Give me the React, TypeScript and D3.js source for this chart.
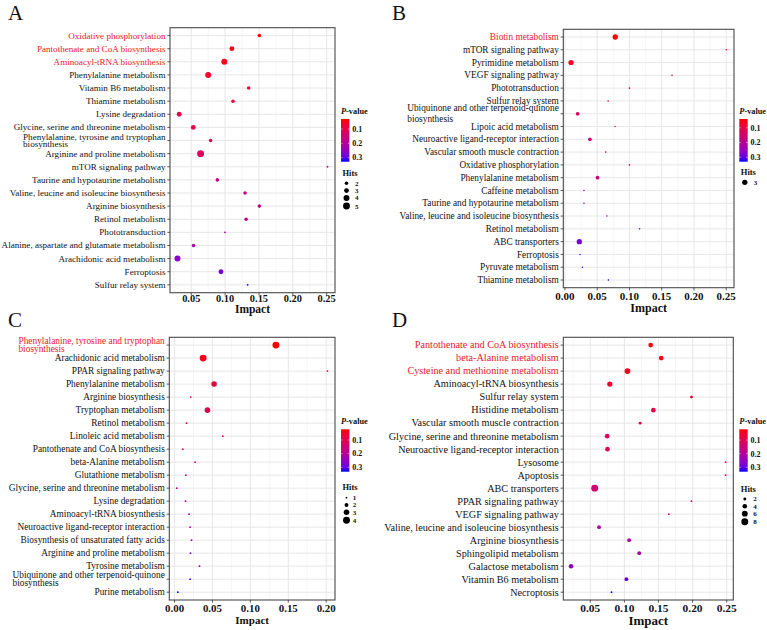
import React, { useEffect, useRef } from "react";
import * as d3 from "d3";

const FONT = "'Liberation Serif','Times New Roman',Times,serif";

// ---------------- Panel A ----------------
const namesA = [
  "Oxidative phosphorylation",
  "Pantothenate and CoA biosynthesis",
  "Aminoacyl-tRNA biosynthesis",
  "Phenylalanine metabolism",
  "Vitamin B6 metabolism",
  "Thiamine metabolism",
  "Lysine degradation",
  "Glycine, serine and threonine metabolism",
  "Phenylalanine, tyrosine and tryptophan\nbiosynthesis",
  "Arginine and proline metabolism",
  "mTOR signaling pathway",
  "Taurine and hypotaurine metabolism",
  "Valine, leucine and isoleucine biosynthesis",
  "Arginine biosynthesis",
  "Retinol metabolism",
  "Phototransduction",
  "Alanine, aspartate and glutamate metabolism",
  "Arachidonic acid metabolism",
  "Ferroptosis",
  "Sulfur relay system",
];
const impactA = [0.1506, 0.110, 0.0988, 0.075, 0.1348, 0.1117, 0.0322, 0.053, 0.0786, 0.0638,
  0.2512, 0.0885, 0.1294, 0.1506, 0.131, 0.0998, 0.0534, 0.0297, 0.0939, 0.1333];
const pvalA = [0.030, 0.040, 0.046, 0.060, 0.068, 0.080, 0.095, 0.100, 0.105, 0.120,
  0.125, 0.160, 0.170, 0.170, 0.180, 0.200, 0.220, 0.260, 0.280, 0.328];
const hitsA = [2, 3, 4, 4, 2, 2, 3, 3, 2, 5, 1, 2, 2, 2, 2, 1, 2, 4, 3, 1];
const sigA = 3;
const hitsBreaksA = [2, 3, 4, 5];

// ---------------- Panel B ----------------
const namesB = [
  "Biotin metabolism",
  "mTOR signaling pathway",
  "Pyrimidine metabolism",
  "VEGF signaling pathway",
  "Phototransduction",
  "Sulfur relay system",
  "Ubiquinone and other terpenoid-quinone\nbiosynthesis",
  "Lipoic acid metabolism",
  "Neuroactive ligand-receptor interaction",
  "Vascular smooth muscle contraction",
  "Oxidative phosphorylation",
  "Phenylalanine metabolism",
  "Caffeine metabolism",
  "Taurine and hypotaurine metabolism",
  "Valine, leucine and isoleucine biosynthesis",
  "Retinol metabolism",
  "ABC transporters",
  "Ferroptosis",
  "Pyruvate metabolism",
  "Thiamine metabolism",
];
const impactB = [0.078, 0.25, 0.0095, 0.166, 0.100, 0.067, 0.0197, 0.0777, 0.0387, 0.0633,
  0.100, 0.0505, 0.0295, 0.0295, 0.065, 0.1157, 0.0223, 0.0233, 0.027, 0.0674];
const pvalB = [0.041, 0.060, 0.065, 0.090, 0.100, 0.120, 0.130, 0.140, 0.150, 0.160,
  0.170, 0.180, 0.200, 0.210, 0.220, 0.250, 0.280, 0.300, 0.310, 0.330];
const hitsB = [3, 1, 3, 1, 1, 1, 2, 1, 2, 1, 1, 2, 1, 1, 1, 1, 3, 1, 1, 1];
const sigB = 1;
const hitsBreaksB = [3];

// ---------------- Panel C ----------------
const namesC = [
  "Phenylalanine, tyrosine and tryptophan\nbiosynthesis",
  "Arachidonic acid metabolism",
  "PPAR signaling pathway",
  "Phenylalanine metabolism",
  "Arginine biosynthesis",
  "Tryptophan metabolism",
  "Retinol metabolism",
  "Linoleic acid metabolism",
  "Pantothenate and CoA biosynthesis",
  "beta-Alanine metabolism",
  "Glutathione metabolism",
  "Glycine, serine and threonine metabolism",
  "Lysine degradation",
  "Aminoacyl-tRNA biosynthesis",
  "Neuroactive ligand-receptor interaction",
  "Biosynthesis of unsaturated fatty acids",
  "Arginine and proline metabolism",
  "Tyrosine metabolism",
  "Ubiquinone and other terpenoid-quinone\nbiosynthesis",
  "Purine metabolism",
];
const impactC = [0.1337, 0.0377, 0.2017, 0.0521, 0.0214, 0.0434, 0.0158, 0.0636, 0.0109, 0.0271,
  0.0149, 0.003, 0.0145, 0.0192, 0.0205, 0.0224, 0.021, 0.0329, 0.0205, 0.0043];
const pvalC = [0.022, 0.040, 0.060, 0.080, 0.090, 0.100, 0.110, 0.120, 0.130, 0.140,
  0.160, 0.170, 0.190, 0.200, 0.210, 0.240, 0.250, 0.270, 0.300, 0.332];
const hitsC = [4, 4, 1, 3, 1, 3, 1, 1, 1, 1, 1, 1, 1, 1, 1, 1, 1, 1, 1, 1];
const sigC = 1;
const hitsBreaksC = [1, 2, 3, 4];

// ---------------- Panel D ----------------
const namesD = [
  "Pantothenate and CoA biosynthesis",
  "beta-Alanine metabolism",
  "Cysteine and methionine metabolism",
  "Aminoacyl-tRNA biosynthesis",
  "Sulfur relay system",
  "Histidine metabolism",
  "Vascular smooth muscle contraction",
  "Glycine, serine and threonine metabolism",
  "Neuroactive ligand-receptor interaction",
  "Lysosome",
  "Apoptosis",
  "ABC transporters",
  "PPAR signaling pathway",
  "VEGF signaling pathway",
  "Valine, leucine and isoleucine biosynthesis",
  "Arginine biosynthesis",
  "Sphingolipid metabolism",
  "Galactose metabolism",
  "Vitamin B6 metabolism",
  "Necroptosis",
];
const impactD = [0.1386, 0.154, 0.1045, 0.0787, 0.1984, 0.1425, 0.1232, 0.0748, 0.0753, 0.2484,
  0.2484, 0.0565, 0.1984, 0.1653, 0.0629, 0.107, 0.1218, 0.0218, 0.103, 0.0812];
const pvalD = [0.021, 0.030, 0.045, 0.060, 0.070, 0.090, 0.100, 0.110, 0.115, 0.130,
  0.130, 0.140, 0.160, 0.170, 0.200, 0.210, 0.220, 0.260, 0.300, 0.332];
const hitsD = [4, 4, 6, 5, 2, 4, 2, 4, 4, 1, 1, 8, 1, 1, 3, 3, 3, 4, 3, 1];
const sigD = 3;
const hitsBreaksD = [2, 4, 6, 8];

const pBreaks = [0.1, 0.2, 0.3];
const xTitle = "Impact";

type Layout = {
  letter: string; lx: number; ly: number;
  x0: number; x1: number; y0: number; y1: number;
  labelFont: number; tickFont: number; titleFont: number;
  tickDy: number; titleDy: number; lineGap: number;
  legX: number; cbTop: number; cbH: number;
  hitsTitleY: number; hitsY0: number; sizeK: number; hitsLabelDx: number;
};

const layouts: Layout[] = [
  { letter: "A", lx: 8, ly: 19.5, x0: 170, x1: 335, y0: 27.7, y1: 292.7, labelFont: 9.1, tickFont: 10.4, titleFont: 11.5,
    tickDy: 9.5, titleDy: 20.3, lineGap: 7.8, legX: 341, cbTop: 119, cbH: 42.7, hitsTitleY: 176, hitsY0: 183.3, sizeK: 1.02, hitsLabelDx: 14 },
  { letter: "B", lx: 392, ly: 19.5, x0: 563.3, x1: 734, y0: 29.3, y1: 287.7, labelFont: 9.3, tickFont: 11, titleFont: 12,
    tickDy: 12.5, titleDy: 24.5, lineGap: 10.6, legX: 739.3, cbTop: 119, cbH: 42.7, hitsTitleY: 174.5, hitsY0: 182.3, sizeK: 0.75, hitsLabelDx: 14.5 },
  { letter: "C", lx: 8, ly: 327.3, x0: 169.3, x1: 335, y0: 337.3, y1: 600, labelFont: 9.35, tickFont: 10.9, titleFont: 11,
    tickDy: 12, titleDy: 23.5, lineGap: 8, legX: 341, cbTop: 429.3, cbH: 42.4, hitsTitleY: 490, hitsY0: 497.7, sizeK: 1.02, hitsLabelDx: 11.7 },
  { letter: "D", lx: 392, ly: 326.7, x0: 563.3, x1: 733.3, y0: 337.3, y1: 600, labelFont: 10.2, tickFont: 11.4, titleFont: 13,
    tickDy: 11.8, titleDy: 24.5, lineGap: 8, legX: 739.3, cbTop: 429.3, cbH: 42.4, hitsTitleY: 491.5, hitsY0: 499, sizeK: 1.02, hitsLabelDx: 14 },
];

type Panel = { names: string[]; impact: number[]; pval: number[]; hits: number[]; nSig: number; hitsBreaks: number[] };
const panels: Panel[] = [
  { names: namesA, impact: impactA, pval: pvalA, hits: hitsA, nSig: sigA, hitsBreaks: hitsBreaksA },
  { names: namesB, impact: impactB, pval: pvalB, hits: hitsB, nSig: sigB, hitsBreaks: hitsBreaksB },
  { names: namesC, impact: impactC, pval: pvalC, hits: hitsC, nSig: sigC, hitsBreaks: hitsBreaksC },
  { names: namesD, impact: impactD, pval: pvalD, hits: hitsD, nSig: sigD, hitsBreaks: hitsBreaksD },
];

const SIG_RED = "#e8202a";

function drawPanel(svg: d3.Selection<SVGSVGElement, unknown, null, undefined>, P: Panel, L: Layout, idx: number) {
  const g = svg.append("g");
  const [imin, imax] = d3.extent(P.impact) as [number, number];
  const pad = (imax - imin) * 0.05;
  const x = d3.scaleLinear().domain([imin - pad, imax + pad]).range([L.x0, L.x1]);
  const y = d3.scalePoint<string>().domain(P.names).range([L.y0, L.y1]).padding(0.6);
  const [pmin, pmax] = d3.extent(P.pval) as [number, number];
  const color = d3.scaleLinear<string>().domain([pmin, pmax]).range(["red", "blue"]).interpolate(d3.interpolateLab);
  const [hmin, hmax] = d3.extent(P.hits) as [number, number];
  const diam = (h: number) => {
    const t = (Math.sqrt(h) - Math.sqrt(hmin)) / (Math.sqrt(hmax) - Math.sqrt(hmin));
    return (1 + 5 * t) * L.sizeK + 0.8;
  };

  // panel letter
  g.append("text").attr("x", L.lx).attr("y", L.ly).attr("font-family", FONT).attr("font-size", 21).attr("fill", "#111").text(L.letter);

  // background
  g.append("rect").attr("x", L.x0).attr("y", L.y0).attr("width", L.x1 - L.x0).attr("height", L.y1 - L.y0).attr("fill", "#fff");

  const ticks = x.ticks(5);
  const step = ticks[1] - ticks[0];
  const [dlo, dhi] = x.domain();
  const minors: number[] = [];
  for (let v = ticks[0] - step / 2; v < dhi; v += step) if (v > dlo) minors.push(v);
  g.selectAll(null).data(minors).enter().append("line")
    .attr("x1", (d) => x(d)).attr("x2", (d) => x(d)).attr("y1", L.y0).attr("y2", L.y1)
    .attr("stroke", "#f0f0f0").attr("stroke-width", 0.6);
  g.selectAll(null).data(ticks).enter().append("line")
    .attr("x1", (d) => x(d)).attr("x2", (d) => x(d)).attr("y1", L.y0).attr("y2", L.y1)
    .attr("stroke", "#e4e4e4").attr("stroke-width", 0.9);
  g.selectAll(null).data(P.names).enter().append("line")
    .attr("x1", L.x0).attr("x2", L.x1).attr("y1", (d) => y(d)!).attr("y2", (d) => y(d)!)
    .attr("stroke", "#e4e4e4").attr("stroke-width", 0.9);

  // points
  const idxs = d3.range(P.names.length);
  g.selectAll(null).data(idxs).enter().append("circle")
    .attr("cx", (i) => x(P.impact[i])).attr("cy", (i) => y(P.names[i])!)
    .attr("r", (i) => diam(P.hits[i]) / 2)
    .attr("fill", (i) => color(P.pval[i]));

  // border
  g.append("rect").attr("x", L.x0).attr("y", L.y0).attr("width", L.x1 - L.x0).attr("height", L.y1 - L.y0)
    .attr("fill", "none").attr("stroke", "#4a4a4a").attr("stroke-width", 1.1);

  // ticks
  g.selectAll(null).data(ticks).enter().append("line")
    .attr("x1", (d) => x(d)).attr("x2", (d) => x(d)).attr("y1", L.y1).attr("y2", L.y1 + 2.7)
    .attr("stroke", "#333").attr("stroke-width", 0.8);
  g.selectAll(null).data(P.names).enter().append("line")
    .attr("x1", L.x0 - 2.7).attr("x2", L.x0).attr("y1", (d) => y(d)!).attr("y2", (d) => y(d)!)
    .attr("stroke", "#333").attr("stroke-width", 0.8);

  // x tick labels
  g.selectAll(null).data(ticks).enter().append("text")
    .attr("x", (d) => x(d)).attr("y", L.y1 + L.tickDy)
    .attr("text-anchor", "middle").attr("font-family", FONT).attr("font-weight", "bold")
    .attr("font-size", L.tickFont).attr("fill", "#111").text((d) => d3.format(".2f")(d));

  // x title
  g.append("text").attr("x", (L.x0 + L.x1) / 2).attr("y", L.y1 + L.titleDy)
    .attr("text-anchor", "middle").attr("font-family", FONT).attr("font-weight", "bold")
    .attr("font-size", L.titleFont).attr("fill", "#111").text(xTitle);

  // y labels
  P.names.forEach((name, i) => {
    const lines = name.split("\n");
    const fill = i < P.nSig ? SIG_RED : "#111";
    const right = L.x0 - 4.5;
    const cy = y(name)!;
    if (lines.length === 1) {
      g.append("text").attr("x", right).attr("y", cy).attr("dy", "0.33em")
        .attr("text-anchor", "end").attr("font-family", FONT).attr("font-size", L.labelFont)
        .attr("fill", fill).text(name);
    } else {
      const t1 = g.append("text").attr("x", right).attr("y", cy - L.lineGap / 2).attr("dy", "0.33em")
        .attr("text-anchor", "end").attr("font-family", FONT).attr("font-size", L.labelFont)
        .attr("fill", fill).text(lines[0]);
      const w = (t1.node() as SVGTextElement).getComputedTextLength();
      t1.attr("text-anchor", "start").attr("x", right - w);
      g.append("text").attr("x", right - w).attr("y", cy + L.lineGap / 2).attr("dy", "0.33em")
        .attr("text-anchor", "start").attr("font-family", FONT).attr("font-size", L.labelFont)
        .attr("fill", fill).text(lines[1]);
    }
  });

  // colour legend
  const title = g.append("text").attr("x", L.legX).attr("y", L.cbTop - 5).attr("font-family", FONT)
    .attr("font-weight", "bold").attr("font-size", 8.3).attr("fill", "#111");
  title.append("tspan").attr("font-style", "italic").text("P");
  title.append("tspan").text("-value");

  const gid = `cbgrad${idx}`;
  const grad = svg.append("defs").append("linearGradient").attr("id", gid)
    .attr("x1", 0).attr("x2", 0).attr("y1", 0).attr("y2", 1);
  d3.range(11).forEach((k) => {
    grad.append("stop").attr("offset", k / 10).attr("stop-color", color(pmin + (pmax - pmin) * k / 10));
  });
  const cbW = 8.4;
  g.append("rect").attr("x", L.legX).attr("y", L.cbTop).attr("width", cbW).attr("height", L.cbH)
    .attr("fill", `url(#${gid})`);
  const cy = d3.scaleLinear().domain([pmin, pmax]).range([L.cbTop, L.cbTop + L.cbH]);
  pBreaks.forEach((b) => {
    g.append("line").attr("x1", L.legX).attr("x2", L.legX + 1.6).attr("y1", cy(b)).attr("y2", cy(b)).attr("stroke", "#fff").attr("stroke-width", 0.5);
    g.append("line").attr("x1", L.legX + cbW - 1.6).attr("x2", L.legX + cbW).attr("y1", cy(b)).attr("y2", cy(b)).attr("stroke", "#fff").attr("stroke-width", 0.5);
    g.append("text").attr("x", L.legX + 11.3).attr("y", cy(b)).attr("dy", "0.35em")
      .attr("font-family", FONT).attr("font-weight", "bold").attr("font-size", 8).attr("fill", "#111")
      .text(String(b));
  });

  // size legend
  g.append("text").attr("x", L.legX + 1.5).attr("y", L.hitsTitleY).attr("font-family", FONT)
    .attr("font-weight", "bold").attr("font-size", 8.5).attr("fill", "#111").text("Hits");
  let yy = L.hitsY0;
  let prevH = 0;
  P.hitsBreaks.forEach((b, k) => {
    const d = diam(b);
    const h = Math.max(7.3, d + 1.6);
    if (k > 0) yy += (prevH + h) / 2;
    prevH = h;
    g.append("circle").attr("cx", L.legX + 5.5).attr("cy", yy).attr("r", d / 2).attr("fill", "#000");
    g.append("text").attr("x", L.legX + L.hitsLabelDx).attr("y", yy).attr("dy", "0.35em")
      .attr("font-family", FONT).attr("font-weight", "bold").attr("font-size", 7).attr("fill", "#111")
      .text(String(b));
  });
}

export default function App() {
  const ref = useRef<SVGSVGElement>(null);
  useEffect(() => {
    if (!ref.current) return;
    const svg = d3.select(ref.current);
    svg.selectAll("*").remove();
    panels.forEach((P, i) => drawPanel(svg, P, layouts[i], i));
  }, []);
  return (
    <svg
      ref={ref}
      width={767}
      height={630}
      style={{ position: "absolute", left: 0, top: 0, background: "#fff" }}
    />
  );
}
